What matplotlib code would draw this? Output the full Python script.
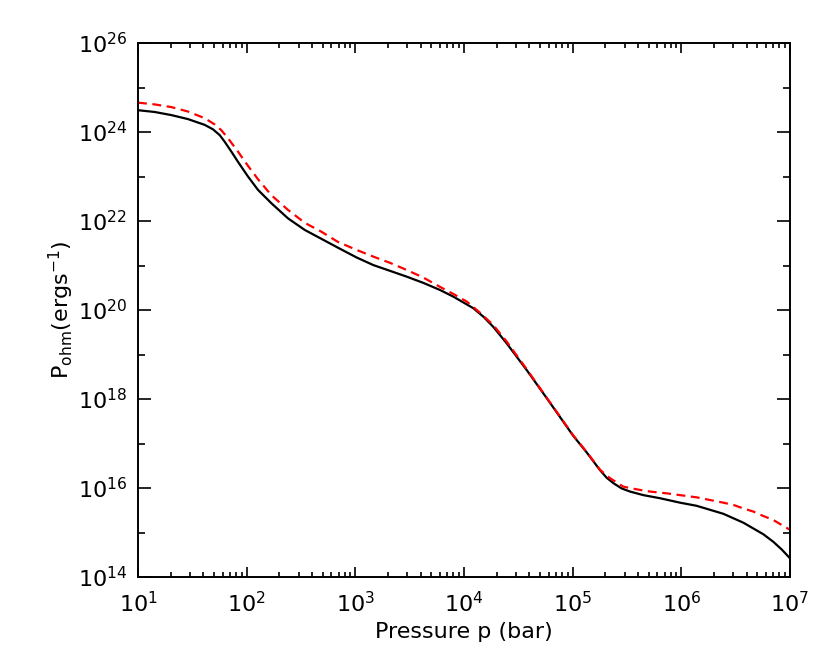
import numpy as np
import matplotlib
matplotlib.use("Agg")
import matplotlib.pyplot as plt
from matplotlib.ticker import FixedLocator, NullFormatter, FuncFormatter

# log10 of pressure (bar) and log10 of ohmic power (erg s^-1), solid black curve
log_p_black = [1.000, 1.153, 1.307, 1.460, 1.614, 1.690, 1.752, 1.798, 1.859, 1.920,
               2.012, 2.104, 2.227, 2.380, 2.534, 2.687, 2.840, 3.012, 3.165, 3.319,
               3.472, 3.625, 3.779, 3.902, 3.994, 4.086, 4.178, 4.270, 4.393, 4.577,
               4.761, 5.006, 5.129, 5.252, 5.313, 5.374, 5.451, 5.528, 5.650, 5.804,
               5.988, 6.141, 6.264, 6.387, 6.479, 6.571, 6.663, 6.755, 6.847, 6.923,
               7.000]
log_P_black = [24.49, 24.45, 24.38, 24.29, 24.16, 24.06, 23.93, 23.78, 23.56, 23.33,
               23.00, 22.70, 22.40, 22.06, 21.80, 21.60, 21.40, 21.18, 21.01, 20.88,
               20.75, 20.61, 20.45, 20.30, 20.17, 20.04, 19.85, 19.62, 19.25, 18.65,
               18.02, 17.17, 16.80, 16.40, 16.23, 16.11, 15.99, 15.92, 15.84, 15.77,
               15.67, 15.60, 15.51, 15.42, 15.32, 15.22, 15.09, 14.96, 14.79, 14.62,
               14.42]

# dashed red curve
log_p_red = [1.000, 1.153, 1.307, 1.460, 1.614, 1.706, 1.767, 1.828, 1.920, 2.012,
             2.104, 2.227, 2.380, 2.534, 2.687, 2.840, 3.012, 3.165, 3.319, 3.472,
             3.625, 3.779, 3.902, 4.025, 4.147, 4.270, 4.393, 4.577, 4.761, 5.006,
             5.129, 5.252, 5.344, 5.466, 5.589, 5.712, 5.865, 5.988, 6.141, 6.264,
             6.387, 6.479, 6.571, 6.663, 6.755, 6.847, 6.923, 7.000]
log_P_red = [24.66, 24.62, 24.56, 24.46, 24.31, 24.17, 24.04, 23.86, 23.56, 23.24,
             22.94, 22.58, 22.25, 21.96, 21.76, 21.53, 21.35, 21.20, 21.06, 20.90,
             20.73, 20.52, 20.36, 20.19, 19.94, 19.66, 19.29, 18.67, 18.03, 17.18,
             16.81, 16.41, 16.22, 16.03, 15.97, 15.92, 15.88, 15.84, 15.79, 15.73,
             15.67, 15.62, 15.54, 15.47, 15.37, 15.28, 15.17, 15.06]

x_major_exp = [1, 2, 3, 4, 5, 6, 7]
y_major_exp = [14, 16, 18, 20, 22, 24, 26]
y_minor_exp = [15, 17, 19, 21, 23, 25]

fig = plt.figure(figsize=(8.3, 6.65), dpi=100)
ax = fig.add_axes([138/830, 1-577/665, (790-138)/830, (577-43)/665])

ax.plot(10.0 ** np.array(log_p_black), 10.0 ** np.array(log_P_black),
        color='black', lw=1.6, solid_joinstyle='round')
ax.plot(10.0 ** np.array(log_p_red), 10.0 ** np.array(log_P_red),
        color='red', lw=1.6, ls=(0, (4, 2.5)))

ax.set_xscale('log')
ax.set_yscale('log')
ax.set_xlim(1e1, 1e7)
ax.set_ylim(1e14, 1e26)

def fmt(v, pos):
    e = int(round(np.log10(v)))
    return r'$\mathregular{10^{%d}}$' % e

ax.xaxis.set_major_locator(FixedLocator([10.0**e for e in x_major_exp]))
xmin = [m * 10.0**e for e in x_major_exp[:-1] for m in range(2, 10)]
ax.xaxis.set_minor_locator(FixedLocator(xmin))
ax.yaxis.set_major_locator(FixedLocator([10.0**e for e in y_major_exp]))
ax.yaxis.set_minor_locator(FixedLocator([10.0**e for e in y_minor_exp]))
ax.xaxis.set_major_formatter(FuncFormatter(fmt))
ax.yaxis.set_major_formatter(FuncFormatter(fmt))
ax.xaxis.set_minor_formatter(NullFormatter())
ax.yaxis.set_minor_formatter(NullFormatter())

ax.tick_params(axis='both', which='both', direction='in', top=True, right=True,
               labelsize=16, width=1.2, color='black')
ax.tick_params(axis='x', which='major', length=7.5, pad=10)
ax.tick_params(axis='x', which='minor', length=3.5)
ax.tick_params(axis='y', which='major', length=9.5, pad=8)
ax.tick_params(axis='y', which='minor', length=5)

for s in ax.spines.values():
    s.set_linewidth(1.4)

ax.set_xlabel('Pressure p (bar)', fontsize=16, labelpad=4)
ax.set_ylabel(r'$\mathregular{P_{ohm}(ergs^{-1})}$', fontsize=16, labelpad=1)

fig.savefig('out.png', dpi=100)
